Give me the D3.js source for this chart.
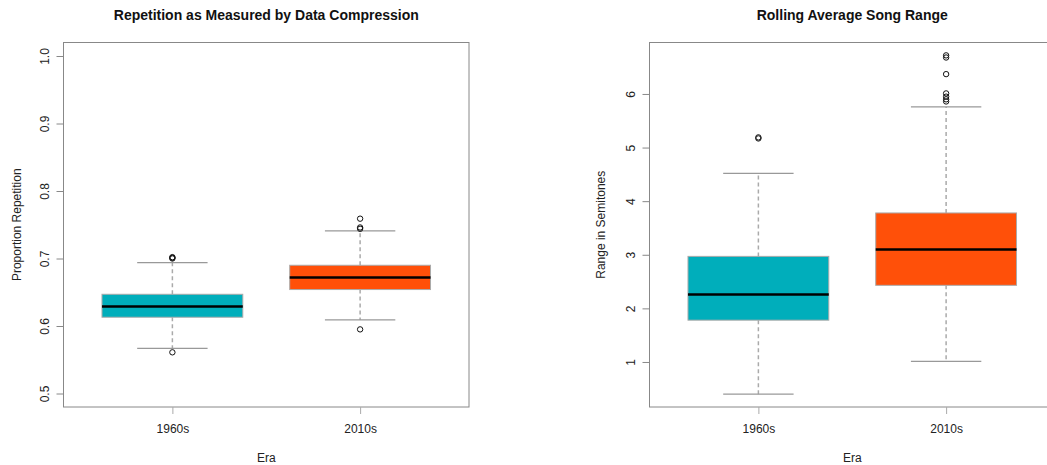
<!DOCTYPE html>
<html><head><meta charset="utf-8">
<script src="https://cdn.jsdelivr.net/npm/d3@7"></script>
<style>
body{margin:0;background:#fff;}
svg{display:block;font-family:"Liberation Sans",Arial,sans-serif;}
</style></head>
<body><svg id="c" width="1047" height="465"></svg>
<script>
const categories = ["1960s", "2010s"];
const boxColors = ["#00AEBB", "#FF5009"];

// Panel 1: Repetition (proportion)
const repTitle = "Repetition as Measured by Data Compression";
const repYLabel = "Proportion Repetition";
const repTicks = [0.5, 0.6, 0.7, 0.8, 0.9, 1.0];
const repLow = [0.567, 0.609];
const repQ1 = [0.613, 0.654];
const repMedian = [0.629, 0.672];
const repQ3 = [0.647, 0.690];
const repHigh = [0.694, 0.741];
const repOutliers = [[0.700, 0.701, 0.702, 0.561], [0.744, 0.746, 0.759, 0.595]];

// Panel 2: Range in semitones
const rngTitle = "Rolling Average Song Range";
const rngYLabel = "Range in Semitones";
const rngTicks = [1, 2, 3, 4, 5, 6];
const rngLow = [0.40, 1.01];
const rngQ1 = [1.78, 2.43];
const rngMedian = [2.26, 3.10];
const rngQ3 = [2.97, 3.78];
const rngHigh = [4.52, 5.76];
const rngOutliers = [[5.17, 5.19], [6.72, 6.68, 6.37, 6.01, 5.95, 5.90, 5.86]];

const svg = d3.select("#c");

function panel(cfg) {
  const {left, top, width, height, yDomain, ticks, title, ylab, low, q1, med, q3, high, outl, ylabX, tickFmt} = cfg;
  const g = svg.append("g");
  const x = d3.scaleLinear().domain([0.42, 2.58]).range([left, left + width]);
  const y = d3.scaleLinear().domain(yDomain).range([top + height, top]);
  const bw = 0.75;
  const sw = 0.375;

  // title
  g.append("text").attr("x", left + width / 2).attr("y", 20)
    .attr("text-anchor", "middle").attr("font-size", 14).attr("font-weight", "bold")
    .attr("fill", "#111").text(title);

  // boxes
  categories.forEach((c, i) => {
    const cx = x(i + 1);
    g.append("line").attr("x1", cx).attr("x2", cx).attr("y1", y(q3[i])).attr("y2", y(high[i]))
      .attr("stroke", "#aaa").attr("stroke-width", 1.5).attr("stroke-dasharray", "4,3");
    g.append("line").attr("x1", cx).attr("x2", cx).attr("y1", y(q1[i])).attr("y2", y(low[i]))
      .attr("stroke", "#aaa").attr("stroke-width", 1.5).attr("stroke-dasharray", "4,3");
    [low[i], high[i]].forEach(v => {
      g.append("line").attr("x1", x(i + 1 - sw / 2)).attr("x2", x(i + 1 + sw / 2))
        .attr("y1", y(v)).attr("y2", y(v)).attr("stroke", "#999").attr("stroke-width", 1.3);
    });
    g.append("rect").attr("x", x(i + 1 - bw / 2)).attr("width", x(i + 1 + bw / 2) - x(i + 1 - bw / 2))
      .attr("y", y(q3[i])).attr("height", y(q1[i]) - y(q3[i]))
      .attr("fill", boxColors[i]).attr("stroke", "#aaa").attr("stroke-width", 1);
    g.append("line").attr("x1", x(i + 1 - bw / 2)).attr("x2", x(i + 1 + bw / 2))
      .attr("y1", y(med[i])).attr("y2", y(med[i])).attr("stroke", "#000").attr("stroke-width", 2.5);
    outl[i].forEach(v => {
      g.append("circle").attr("cx", cx).attr("cy", y(v)).attr("r", 2.7)
        .attr("fill", "none").attr("stroke", "#111").attr("stroke-width", 1);
    });
  });

  g.append("rect").attr("x", left).attr("y", top).attr("width", width).attr("height", height)
    .attr("fill", "none").attr("stroke", "#888").attr("stroke-width", 1);

  const ya = g.append("g").attr("transform", `translate(${left},0)`)
    .call(d3.axisLeft(y).tickValues(ticks).tickSize(7).tickPadding(0).tickFormat(tickFmt));
  ya.selectAll(".tick line").attr("stroke", "#888");
  ya.selectAll(".tick text").attr("font-size", 12).attr("fill", "#222")
    .attr("font-family", "Liberation Sans, Arial, sans-serif")
    .attr("text-anchor", "middle").attr("x", 0).attr("dy", 0)
    .attr("transform", "translate(-19,0) rotate(-90)").attr("dominant-baseline", "central");
  ya.select(".domain").remove();

  const xa = g.append("g").attr("transform", `translate(0,${top + height})`)
    .call(d3.axisBottom(x).tickValues([1, 2]).tickSize(7).tickPadding(10).tickFormat((d, i) => categories[i]));
  xa.select(".domain").remove();
  xa.selectAll(".tick line").attr("stroke", "#aaa");
  xa.selectAll(".tick text").attr("font-size", 12).attr("fill", "#222")
    .attr("font-family", "Liberation Sans, Arial, sans-serif");

  g.append("text").attr("x", left + width / 2).attr("y", 462)
    .attr("text-anchor", "middle").attr("font-size", 12).attr("fill", "#222").text("Era");
  g.append("text").attr("transform", `translate(${ylabX},${top + height / 2}) rotate(-90)`)
    .attr("text-anchor", "middle").attr("dominant-baseline", "central")
    .attr("font-size", 12).attr("fill", "#222").text(ylab);
}

panel({left: 63.5, top: 42.5, width: 405.5, height: 364.5, yDomain: [0.48, 1.02], ticks: repTicks,
  title: repTitle, ylab: repYLabel, low: repLow, q1: repQ1, med: repMedian, q3: repQ3, high: repHigh,
  outl: repOutliers, ylabX: 17, tickFmt: d3.format(".1f")});
panel({left: 649.5, top: 42.5, width: 405.5, height: 364.5, yDomain: [0.16, 6.96], ticks: rngTicks,
  title: rngTitle, ylab: rngYLabel, low: rngLow, q1: rngQ1, med: rngMedian, q3: rngQ3, high: rngHigh,
  outl: rngOutliers, ylabX: 601, tickFmt: d3.format("d")});
</script></body></html>
